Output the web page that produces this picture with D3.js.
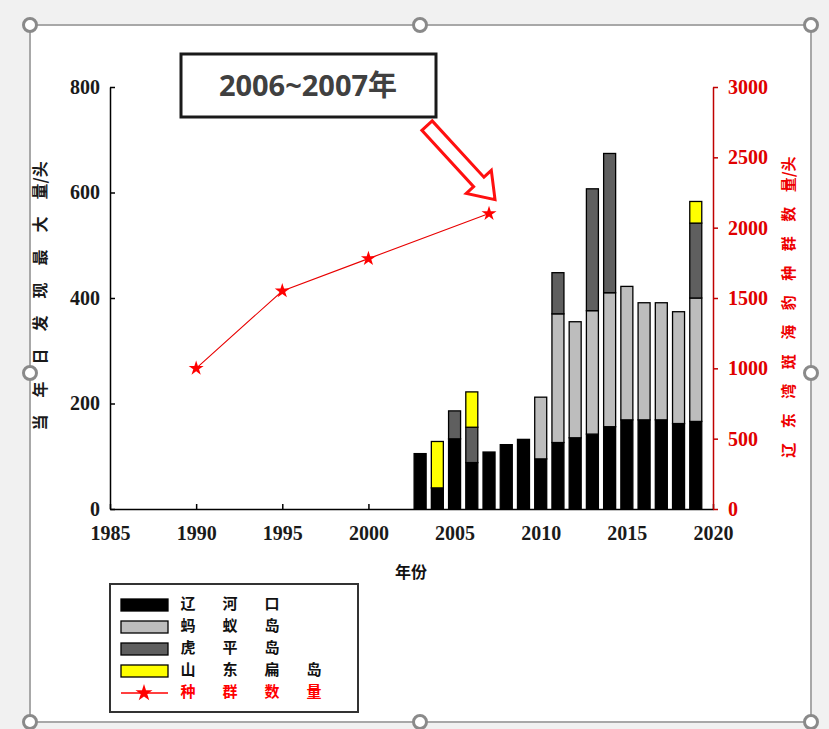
<!DOCTYPE html>
<html><head><meta charset="utf-8">
<script src="https://cdn.jsdelivr.net/npm/d3@7/dist/d3.min.js"></script>
<style>
body{margin:0;background:#f1f1f1;}
svg{display:block;}
</style></head>
<body>
<svg id="c" width="829" height="729"></svg>
<script>
// ---- data ----
const years = [2003,2004,2005,2006,2007,2008,2009,2010,2011,2012,2013,2014,2015,2016,2017,2018,2019];
const liaohekou = [105,40,133,88,108,122,132,95,126,135,142,156,169,169,169,162,166];
const mayidao   = [0,0,0,0,0,0,0,117,244,220,234,254,253,222,222,212,234];
const hupingdao = [0,0,53,67,0,0,0,0,78,0,231,264,0,0,0,0,142];
const shandongbiandao = [0,88,0,67,0,0,0,0,0,0,0,0,0,0,0,0,41];
const popYears = [1990,1995,2000,2007];
const popValues = [1000,1550,1780,2100];
const xTicks = [1985,1990,1995,2000,2005,2010,2015,2020];
const yLeftTicks = [0,200,400,600,800];
const yRightTicks = [0,500,1000,1500,2000,2500,3000];
const seriesNames = ["辽河口","蚂蚁岛","虎平岛","山东扁岛"];
const seriesColors = ["#000000","#bdbdbd","#5f5f5f","#ffff00"];
const lineName = "种群数量";
const annotationText = "2006~2007年";
const leftTitle = ["当","年","日","发","现","最","大","量/头"];
const rightTitle = ["辽","东","湾","斑","海","豹","种","群","数","量/头"];
const xTitle = "年份";

const svg = d3.select("#c");

// background frame (picture selection)
svg.append("rect").attr("x",30).attr("y",25).attr("width",781).attr("height",697).attr("fill","#fff").attr("stroke","#a8a8a8").attr("stroke-width",2);
const handles = [[30,25],[420,25],[811,25],[30,373],[811,373],[30,722],[420,722],[811,722]];
svg.selectAll("circle.h").data(handles).enter().append("circle").attr("class","h")
  .attr("cx",d=>d[0]).attr("cy",d=>d[1]).attr("r",6.5)
  .attr("fill","#fff").attr("stroke","#8a8a8a").attr("stroke-width",3);

// scales
const x = d3.scaleLinear().domain([1985,2020]).range([110,713]);
const yL = d3.scaleLinear().domain([0,800]).range([509,87]);
const yR = d3.scaleLinear().domain([0,3000]).range([509,87]);

// stacked bars
const table = years.map((yr,i)=>({year:yr, s0:liaohekou[i], s1:mayidao[i], s2:hupingdao[i], s3:shandongbiandao[i]}));
const stack = d3.stack().keys(["s0","s1","s2","s3"])(table);
const bw = 12;
stack.forEach((layer,k)=>{
  svg.append("g").selectAll("rect").data(layer.filter(d=>d[1]-d[0]>0)).enter().append("rect")
    .attr("x",d=>x(d.data.year)-bw/2).attr("width",bw)
    .attr("y",d=>yL(d[1])).attr("height",d=>yL(d[0])-yL(d[1]))
    .attr("fill",seriesColors[k]).attr("stroke","#000").attr("stroke-width",1.3);
});

// axes
const fontNum = "'Liberation Serif','Times New Roman',serif";
const gx = svg.append("g").attr("transform","translate(0,509)")
  .call(d3.axisBottom(x).tickValues(xTicks).tickFormat(d3.format("d")).tickSizeInner(-5).tickSizeOuter(0).tickPadding(17));
const gl = svg.append("g").attr("transform","translate(110,0)")
  .call(d3.axisLeft(yL).tickValues(yLeftTicks).tickFormat(d3.format("d")).tickSizeInner(-5).tickSizeOuter(0).tickPadding(10));
const gr = svg.append("g").attr("transform","translate(713,0)")
  .call(d3.axisRight(yR).tickValues(yRightTicks).tickFormat(d3.format("d")).tickSizeInner(5).tickSizeOuter(0).tickPadding(10));
[gx,gl].forEach(g=>{
  g.selectAll("path,line").attr("stroke","#000").attr("stroke-width",1.5);
  g.selectAll("text").attr("font-family",fontNum).attr("font-size",20).attr("font-weight","bold").attr("fill","#1a1a1a");
});
gr.selectAll("path,line").attr("stroke","#c00000").attr("stroke-width",1.5);
gr.selectAll("text").attr("font-family",fontNum).attr("font-size",20).attr("font-weight","bold").attr("fill","#e00000");

// population line
const line = d3.line().x((d,i)=>x(popYears[i])).y(d=>yR(d));
svg.append("path").datum(popValues).attr("d",line).attr("fill","none").attr("stroke","#e80000").attr("stroke-width",1.1);
const star = d3.symbol().type(d3.symbolStar).size(70);
svg.append("g").selectAll("path").data(popValues).enter().append("path")
  .attr("d",star).attr("transform",(d,i)=>`translate(${x(popYears[i])},${yR(d)})`).attr("fill","#ff0000");

// annotation box
svg.append("rect").attr("x",181).attr("y",54).attr("width",255).attr("height",63)
  .attr("fill","#fff").attr("stroke","#1a1a1a").attr("stroke-width",3);
svg.append("text").attr("x",308).attr("y",96).attr("text-anchor","middle")
  .attr("font-family","'Open Sans','Noto Sans CJK SC',sans-serif").attr("font-weight","bold").attr("font-size",29)
  .attr("fill","#404040").text(annotationText);

// hollow arrow pointing to 2007 star
const tipX = x(2007)+6, tipY = yR(2100)-14;
const sx = tipX-68, sy = tipY-74;
const L = Math.hypot(tipX-sx,tipY-sy), ang = Math.atan2(tipY-sy,tipX-sx)*180/Math.PI;
const hl = 24, hw = 17, sw = 7;
svg.append("path").attr("transform",`translate(${sx},${sy}) rotate(${ang})`)
  .attr("d",`M0,${-sw}L${L-hl},${-sw}L${L-hl},${-hw}L${L},0L${L-hl},${hw}L${L-hl},${sw}L0,${sw}Z`)
  .attr("fill","#fff").attr("stroke","#ff1010").attr("stroke-width",3).attr("stroke-linejoin","miter");

// axis titles
const cjk = "'Noto Sans CJK SC',sans-serif";
function vTitle(cx, cy, segs, step, color, size){
  const total = step*(segs.length-1) + 30;
  const t = svg.append("text").attr("transform",`translate(${cx},${cy}) rotate(-90)`)
    .attr("font-family",cjk).attr("font-weight","bold").attr("font-size",size).attr("fill",color)
    .attr("dominant-baseline","middle");
  segs.forEach((s,i)=>t.append("tspan").attr("x",-total/2+i*step).attr("y",0).text(s));
}
vTitle(42, 300, leftTitle, 33, "#1a1a1a", 16);
vTitle(790, 310, rightTitle, 29.5, "#ee0000", 15);
svg.append("text").attr("x",411).attr("y",578).attr("text-anchor","middle")
  .attr("font-family",cjk).attr("font-weight","bold").attr("font-size",16).attr("fill","#111").text(xTitle);

// legend
svg.append("rect").attr("x",110).attr("y",584).attr("width",248).attr("height",128)
  .attr("fill","#fff").attr("stroke","#333").attr("stroke-width",2);
const rowsY = [605,627,649,671,693];
seriesNames.forEach((nm,i)=>{
  svg.append("rect").attr("x",121).attr("y",rowsY[i]-6).attr("width",47).attr("height",12)
    .attr("fill",seriesColors[i]).attr("stroke","#000").attr("stroke-width",1.3);
  const t = svg.append("text").attr("y",rowsY[i]).attr("dominant-baseline","middle")
    .attr("font-family",cjk).attr("font-weight","bold").attr("font-size",15).attr("fill","#111").attr("text-anchor","middle");
  Array.from(nm).forEach((ch,j)=>t.append("tspan").attr("x",188+j*42).text(ch));
});
svg.append("line").attr("x1",121).attr("x2",168).attr("y1",rowsY[4]).attr("y2",rowsY[4]).attr("stroke","#ff0000").attr("stroke-width",1.5);
svg.append("path").attr("d",d3.symbol().type(d3.symbolStar).size(90)).attr("transform",`translate(144,${rowsY[4]})`).attr("fill","#ff0000");
const tl = svg.append("text").attr("y",rowsY[4]).attr("dominant-baseline","middle")
  .attr("font-family",cjk).attr("font-weight","bold").attr("font-size",15).attr("fill","#ff0000").attr("text-anchor","middle");
Array.from(lineName).forEach((ch,j)=>tl.append("tspan").attr("x",188+j*42).text(ch));
</script>
</body></html>
